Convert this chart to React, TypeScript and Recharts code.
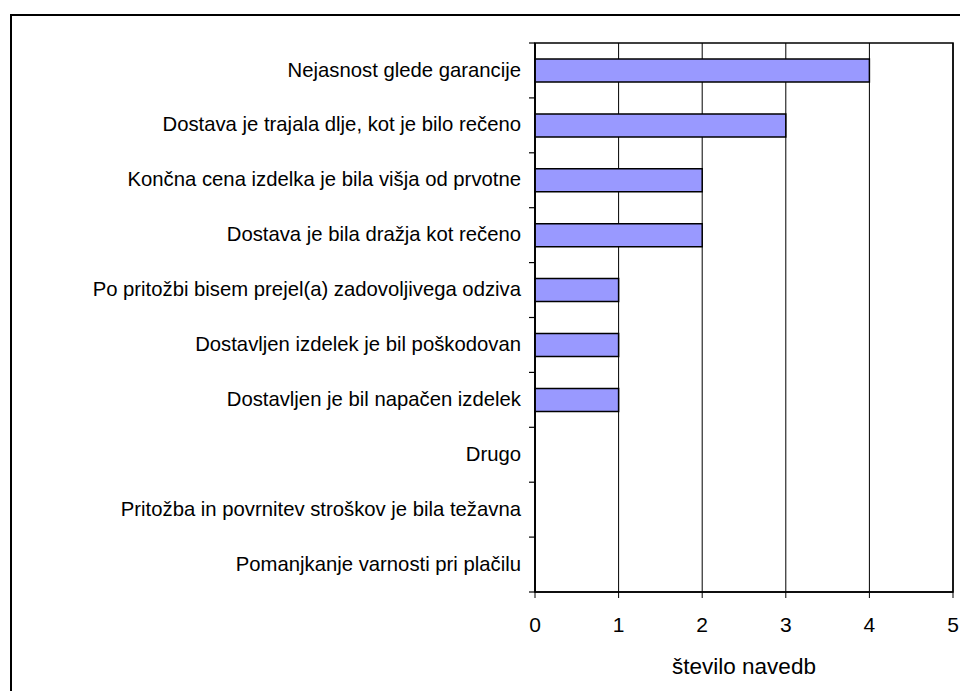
import { BarChart, Bar, XAxis, YAxis, CartesianGrid, ReferenceArea } from 'recharts';

const REASONS = [
  'Nejasnost glede garancije',
  'Dostava je trajala dlje, kot je bilo rečeno',
  'Končna cena izdelka je bila višja od prvotne',
  'Dostava je bila dražja kot rečeno',
  'Po pritožbi bisem prejel(a) zadovoljivega odziva',
  'Dostavljen izdelek je bil poškodovan',
  'Dostavljen je bil napačen izdelek',
  'Drugo',
  'Pritožba in povrnitev stroškov je bila težavna',
  'Pomanjkanje varnosti pri plačilu',
];
const COUNTS = [4, 3, 2, 2, 1, 1, 1, 0, 0, 0];
const X_TICKS = [0, 1, 2, 3, 4, 5];
const X_LABEL = 'število navedb';

const data = REASONS.map((reason, i) => ({ reason, count: COUNTS[i] }));

const W = 958;
const H = 683;
const MARGIN = { top: 35, right: 13, bottom: 15, left: 0 };
const Y_AXIS_W = 527;
const X_AXIS_H = 84;
const FONT = '"Liberation Sans", Arial, sans-serif';

// plot height split into equal bands; ticks sit on the band edges
const BAND = (H - MARGIN.top - MARGIN.bottom - X_AXIS_H) / REASONS.length;

function CategoryTick(props: any) {
  const { x, y, payload, index } = props;
  // x arrives already shifted left of the axis line by tickSize + tickMargin (6 + 2)
  const ax = x + 8;
  const last = index === REASONS.length - 1;
  return (
    <g>
      <line x1={ax - 6} x2={ax} y1={y - BAND / 2} y2={y - BAND / 2} stroke="#000" strokeWidth={1.2} />
      {last && <line x1={ax - 6} x2={ax} y1={y + BAND / 2} y2={y + BAND / 2} stroke="#000" strokeWidth={1.2} />}
      <text x={ax - 14} y={y} dy="0.3em" textAnchor="end" fontSize={20.3} fontFamily={FONT} fill="#000">
        {payload.value}
      </text>
    </g>
  );
}

export default function App() {
  return (
    <div style={{ position: 'relative', width: W, height: H, background: '#fff' }}>
      <div
        style={{
          position: 'absolute',
          left: 2,
          top: 6,
          width: 956,
          height: 677,
          borderLeft: '2px solid #000',
          borderTop: '2px solid #000',
          boxSizing: 'border-box',
        }}
      />
      <BarChart
        width={W}
        height={H}
        data={data}
        layout="vertical"
        margin={MARGIN}
        barSize={23}
        style={{ position: 'absolute', left: 0, top: 0 }}
      >
        <CartesianGrid horizontal={false} stroke="#000" strokeWidth={1} />
        <XAxis
          type="number"
          domain={[0, 5]}
          ticks={X_TICKS}
          height={X_AXIS_H}
          tickSize={6}
          tickMargin={19}
          axisLine={{ stroke: '#000', strokeWidth: 1.6 }}
          tickLine={{ stroke: '#000' }}
          tick={{ fill: '#000', fontSize: 21, fontFamily: FONT }}
          label={{ value: X_LABEL, position: 'insideBottom', offset: 2, fill: '#000', fontSize: 22.5, fontFamily: FONT }}
        />
        <YAxis
          type="category"
          dataKey="reason"
          width={Y_AXIS_W}
          tickLine={false}
          axisLine={{ stroke: '#000', strokeWidth: 1.6 }}
          interval={0}
          tick={<CategoryTick />}
        />
        <ReferenceArea x1={0} x2={5} fill="none" stroke="#000" strokeWidth={1.6} ifOverflow="visible" />
        <Bar dataKey="count" fill="#9999FF" stroke="#000" strokeWidth={1.5} isAnimationActive={false} />
      </BarChart>
    </div>
  );
}
